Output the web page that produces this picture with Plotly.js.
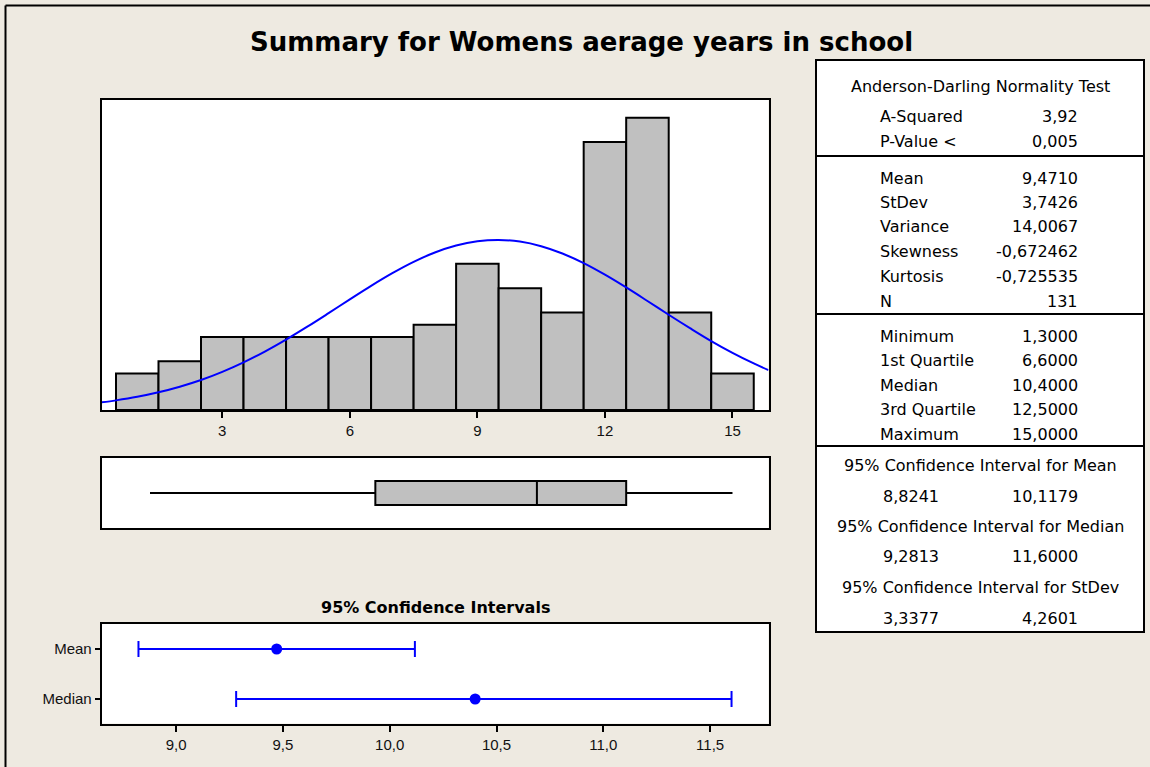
<!DOCTYPE html>
<html>
<head>
<meta charset="utf-8">
<script src="https://cdn.plot.ly/plotly-3.0.1.min.js"></script>
<style>html,body{margin:0;padding:0;background:#EEEAE1;}</style>
</head>
<body>
<div id="chart" style="width:1150px;height:767px;"></div>
<script>
// ---------- data ----------
const chartTitle = "Summary for Womens aerage years in school";
const binCenters = [1, 2, 3, 4, 5, 6, 7, 8, 9, 10, 11, 12, 13, 14, 15];
const binCounts  = [3, 4, 6, 6, 6, 6, 6, 7, 12, 10, 8, 22, 24, 8, 3];
const histTicks  = [3, 6, 9, 12, 15];

// fitted normal curve, heights (count units)
const curveX = [0.164, 0.5, 1, 1.5, 2, 2.5, 3, 3.5, 4, 4.5, 5, 5.5, 6, 6.5, 7, 7.5, 8, 8.5, 9, 9.5,
                10, 10.5, 11, 11.5, 12, 12.5, 13, 13.5, 14, 14.5, 15, 15.5, 15.847];
const curveY = [0.63, 0.79, 1.08, 1.45, 1.91, 2.46, 3.13, 3.91, 4.80, 5.78, 6.84, 7.95, 9.08, 10.19, 11.23, 12.16, 12.93, 13.50, 13.85, 13.96,
                13.83, 13.45, 12.85, 12.06, 11.11, 10.06, 8.95, 7.82, 6.72, 5.66, 4.69, 3.82, 3.27];

// box plot summary
const boxMin = 1.3, boxQ1 = 6.6, boxMedian = 10.4, boxQ3 = 12.5, boxMax = 15.0;

// confidence intervals
const ciCategories = ["Mean", "Median"];
const ciPoints = [9.4710, 10.4000];
const ciLower  = [8.8241, 9.2813];
const ciUpper  = [10.1179, 11.6000];
const ciTicks  = [9.0, 9.5, 10.0, 10.5, 11.0, 11.5];
const ciTickText = ["9,0", "9,5", "10,0", "10,5", "11,0", "11,5"];
const ciPanelTitle = "95% Confidence Intervals";

// summary table
const adHeader = "Anderson-Darling Normality Test";
const adLabels = ["A-Squared", "P-Value <"];
const adValues = ["3,92", "0,005"];
const momentLabels = ["Mean", "StDev", "Variance", "Skewness", "Kurtosis", "N"];
const momentValues = ["9,4710", "3,7426", "14,0067", "-0,672462", "-0,725535", "131"];
const quantLabels = ["Minimum", "1st Quartile", "Median", "3rd Quartile", "Maximum"];
const quantValues = ["1,3000", "6,6000", "10,4000", "12,5000", "15,0000"];
const ciHeaders = ["95% Confidence Interval for Mean", "95% Confidence Interval for Median", "95% Confidence Interval for StDev"];
const ciLowText  = ["8,8241", "9,2813", "3,3377"];
const ciHighText = ["10,1179", "11,6000", "4,2601"];

// ---------- layout helpers ----------
const W = 1150, H = 767;
const px = x => x / W;
const py = y => 1 - y / H;
const BG = "#EEEAE1";
const BLUE = "#0000FF";
const GRAY = "#C0C0C0";
const tickFont = {family: "Liberation Sans, Arial, sans-serif", size: 15, color: "#111"};
const tabFont = {family: "DejaVu Sans, sans-serif", size: 16, color: "#000"};

const plotL = 101.7, plotR = 768.5;

const traces = [
  {
    type: "bar", x: binCenters, y: binCounts, width: 1,
    marker: {color: GRAY, line: {color: "#000", width: 2}},
    xaxis: "x", yaxis: "y", hoverinfo: "x+y", showlegend: false
  },
  {
    type: "scatter", mode: "lines", x: curveX, y: curveY,
    line: {color: BLUE, width: 2, shape: "spline"},
    xaxis: "x", yaxis: "y", showlegend: false
  },
  {
    type: "box", orientation: "h", y: [0],
    q1: [boxQ1], median: [boxMedian], q3: [boxQ3],
    lowerfence: [boxMin], upperfence: [boxMax],
    width: 1, whiskerwidth: 0,
    fillcolor: GRAY, line: {color: "#000", width: 2},
    xaxis: "x2", yaxis: "y2", showlegend: false, boxpoints: false
  },
  {
    type: "scatter", mode: "markers",
    x: ciPoints, y: ciCategories,
    marker: {color: BLUE, size: 11},
    error_x: {
      type: "data", symmetric: false,
      array: ciPoints.map((p, i) => ciUpper[i] - p),
      arrayminus: ciPoints.map((p, i) => p - ciLower[i]),
      color: BLUE, thickness: 2, width: 8
    },
    xaxis: "x3", yaxis: "y3", showlegend: false
  }
];

const annotations = [];
function addText(x, y, text, anchor, font) {
  annotations.push({xref: "paper", yref: "paper", x: px(x), y: py(y), text: text,
    xanchor: anchor, yanchor: "middle", showarrow: false, font: font});
}
addText(581, 42, "<b>" + chartTitle + "</b>", "center",
  {family: "DejaVu Sans, sans-serif", size: 26, color: "#000"});
addText(435, 607, "<b>" + ciPanelTitle + "</b>", "center",
  {family: "DejaVu Sans, sans-serif", size: 16, color: "#000"});

const labX = 878, valX = 1080, midX = 980;
addText(midX, 86.5, adHeader, "center", tabFont);
const adY = [116.5, 141.5];
adLabels.forEach((l, i) => { addText(labX, adY[i], l, "left", tabFont); addText(valX, adY[i], adValues[i], "right", tabFont); });
const momY = [178.3, 203, 227, 251.7, 276.3, 301];
momentLabels.forEach((l, i) => { addText(labX, momY[i], l, "left", tabFont); addText(valX, momY[i], momentValues[i], "right", tabFont); });
const quY = [336, 360.5, 385.5, 410, 434];
quantLabels.forEach((l, i) => { addText(labX, quY[i], l, "left", tabFont); addText(valX, quY[i], quantValues[i], "right", tabFont); });
const ciHY = [465, 526.5, 587], ciVY = [496.5, 556, 618];
ciHeaders.forEach((h, i) => {
  addText(midX, ciHY[i], h, "center", tabFont);
  addText(881, ciVY[i], ciLowText[i], "left", tabFont);
  addText(valX, ciVY[i], ciHighText[i], "right", tabFont);
});

const shapes = [
  // outer frame (left and top edges)
  {type: "line", xref: "paper", yref: "paper", x0: px(5.5), x1: px(5.5), y0: py(5.5), y1: py(800), line: {color: "#000", width: 2}},
  {type: "line", xref: "paper", yref: "paper", x0: px(5.5), x1: px(1200), y0: py(5.5), y1: py(5.5), line: {color: "#000", width: 2}},
  // summary table
  {type: "rect", xref: "paper", yref: "paper", x0: px(816), x1: px(1144), y0: py(60), y1: py(632),
   fillcolor: "#FFFFFF", line: {color: "#000", width: 2}, layer: "below"},
  {type: "line", xref: "paper", yref: "paper", x0: px(816), x1: px(1144), y0: py(156), y1: py(156), line: {color: "#000", width: 2}},
  {type: "line", xref: "paper", yref: "paper", x0: px(816), x1: px(1144), y0: py(314), y1: py(314), line: {color: "#000", width: 2}},
  {type: "line", xref: "paper", yref: "paper", x0: px(816), x1: px(1144), y0: py(446), y1: py(446), line: {color: "#000", width: 2}}
];

const frameAxis = {showline: true, linecolor: "#000", linewidth: 2, mirror: true, showgrid: false, zeroline: false, fixedrange: true};

const layout = {
  width: W, height: H, autosize: false,
  margin: {l: 0, r: 0, t: 0, b: 0, pad: 0},
  paper_bgcolor: BG, plot_bgcolor: "#FFFFFF",
  showlegend: false, bargap: 0,
  xaxis: Object.assign({}, frameAxis, {
    domain: [px(plotL), px(plotR)], anchor: "y", range: [0.164, 15.847],
    tickmode: "array", tickvals: histTicks, ticktext: histTicks.map(String),
    ticks: "outside", ticklen: 6, tickwidth: 2, tickcolor: "#000", tickfont: tickFont
  }),
  yaxis: Object.assign({}, frameAxis, {
    domain: [py(410), py(100)], anchor: "x", range: [0, 25.45],
    showticklabels: false, ticks: ""
  }),
  xaxis2: Object.assign({}, frameAxis, {
    domain: [px(plotL), px(plotR)], anchor: "y2", range: [0.164, 15.847],
    showticklabels: false, ticks: ""
  }),
  yaxis2: Object.assign({}, frameAxis, {
    domain: [py(528), py(458)], anchor: "x2", range: [-1.46, 1.46],
    showticklabels: false, ticks: ""
  }),
  xaxis3: Object.assign({}, frameAxis, {
    domain: [px(plotL), px(plotR)], anchor: "y3", range: [8.652, 11.773],
    tickmode: "array", tickvals: ciTicks, ticktext: ciTickText,
    ticks: "outside", ticklen: 6, tickwidth: 2, tickcolor: "#000", tickfont: tickFont,
    mirror: true
  }),
  yaxis3: Object.assign({}, frameAxis, {
    domain: [py(723.5), py(624)], anchor: "x3",
    type: "category", categoryorder: "array", categoryarray: ciCategories,
    range: [1.49, -0.5],
    ticks: "outside", ticklen: 5, tickwidth: 2, tickcolor: "#000", tickfont: tickFont
  }),
  shapes: shapes,
  annotations: annotations
};

Plotly.newPlot("chart", traces, layout, {staticPlot: true, displayModeBar: false});
</script>
</body>
</html>
